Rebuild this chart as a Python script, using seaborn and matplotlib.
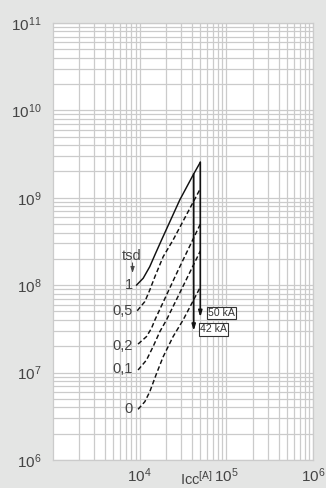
import numpy as np
import pandas as pd
import matplotlib
matplotlib.use("Agg")
import matplotlib.pyplot as plt
import seaborn as sns

# ---- data ----
tsd_labels = ["1", "0,5", "0,2", "0,1", "0"]
icc_1 = [9.2e3, 1.1e4, 1.31e4, 1.5e4, 1.79e4, 2.9e4, 4.13e4, 5.0e4]
i2t_1 = [1.0e8, 1.2e8, 1.63e8, 2.22e8, 3.29e8, 9.44e8, 1.82e9, 2.55e9]
icc_05 = [9.4e3, 1.15e4, 1.31e4, 1.5e4, 1.87e4, 2.43e4, 5.0e4]
i2t_05 = [5.1e7, 6.5e7, 8.8e7, 1.25e8, 2.12e8, 3.29e8, 1.27e9]
icc_02 = [9.6e3, 1.2e4, 1.37e4, 1.5e4, 2.72e4, 5.0e4]
i2t_02 = [2.12e7, 2.58e7, 3.21e7, 4.0e7, 1.42e8, 5.0e8]
icc_01 = [9.6e3, 1.2e4, 1.43e4, 1.71e4, 2.04e4, 5.0e4]
i2t_01 = [1.07e7, 1.39e7, 1.98e7, 2.94e7, 4.0e7, 2.46e8]
icc_0 = [9.6e3, 1.15e4, 1.31e4, 1.57e4, 1.87e4, 2.43e4, 3.17e4, 5.0e4]
i2t_0 = [3.8e6, 4.65e6, 6.04e6, 9.8e6, 1.52e7, 2.58e7, 4.0e7, 9.5e7]

limit_icc = [5.0e4, 4.2e4]
limit_top = [2.55e9, 1.87e9]
limit_bottom = [4.3e7, 3.0e7]
limit_labels = ["50 kA", "42 kA"]
label_pos_x = [6.1e4, 4.95e4]
label_pos_y = [4.8e7, 3.12e7]

tsd_label_y = [1.0e8, 5.0e7, 2.02e7, 1.1e7, 3.8e6]

x_ticks = [1e4, 1e5, 1e6]
y_ticks = [1e6, 1e7, 1e8, 1e9, 1e10, 1e11]

curves = [(icc_1, i2t_1), (icc_05, i2t_05), (icc_02, i2t_02),
          (icc_01, i2t_01), (icc_0, i2t_0)]
rows = []
for lab, (xs, ys) in zip(tsd_labels, curves):
    for xv, yv in zip(xs, ys):
        rows.append({"tsd": lab, "Icc": xv, "I2t": yv})
df = pd.DataFrame(rows)

# ---- style ----
sns.set_theme(style="white")
plt.rcParams["font.family"] = ["Liberation Sans", "DejaVu Sans"]
plt.rcParams["mathtext.fontset"] = "custom"
plt.rcParams["mathtext.rm"] = "Liberation Sans"
plt.rcParams["mathtext.it"] = "Liberation Sans"

bg = "#e4e5e4"
txt = "#444444"
fig = plt.figure(figsize=(3.26, 4.88), dpi=100, facecolor=bg)
ax = fig.add_axes([0.1617, 0.0574, 0.7994, 0.8955])
ax.set_facecolor("white")

ax.set_xscale("log")
ax.set_yscale("log")
ax.set_xlim(1e3, 1e6)
ax.set_ylim(1e6, 1e11)

ax.grid(which="both", color="#cbcbcb", linewidth=0.9)
ax.set_axisbelow(True)
for s in ax.spines.values():
    s.set_color("#cbcbcb")
    s.set_linewidth(0.9)

for lab in tsd_labels:
    sub = df[df["tsd"] == lab]
    ls = "-" if lab == "1" else (0, (3.2, 1.8))
    sns.lineplot(data=sub, x="Icc", y="I2t", ax=ax, color="#111111",
                 linewidth=1.05, linestyle=ls, estimator=None, sort=True,
                 legend=False)

for xv, yt, yb in zip(limit_icc, limit_top, limit_bottom):
    ax.annotate("", xy=(xv, yb), xytext=(xv, yt),
                arrowprops=dict(arrowstyle="-|>,head_length=0.3,head_width=0.09",
                                color="#111111", lw=1.2, shrinkA=0, shrinkB=0))

for lab, xv, yv in zip(limit_labels, label_pos_x, label_pos_y):
    ax.text(xv, yv, lab, fontsize=7.6, color="#333333", ha="left", va="center",
            bbox=dict(boxstyle="square,pad=0.12", fc="white", ec="#333333", lw=0.8))

for lab, yv in zip(tsd_labels, tsd_label_y):
    ax.text(8.3e3, yv, lab, fontsize=10.5, color=txt, ha="right", va="center")

ax.text(8.1e3, 2.16e8, "tsd", fontsize=10.5, color=txt, ha="center", va="center")
ax.annotate("", xy=(8.3e3, 1.38e8), xytext=(8.3e3, 1.8e8),
            arrowprops=dict(arrowstyle="-|>,head_length=0.3,head_width=0.1",
                            color=txt, lw=0.7, shrinkA=0, shrinkB=0))

ax.set_xticks(x_ticks)
ax.set_yticks(y_ticks)
ax.tick_params(axis="both", which="both", length=0, labelsize=11, labelcolor=txt)
ax.tick_params(axis="x", pad=4.5)
ax.tick_params(axis="y", pad=8)
ax.set_xlabel("")
ax.set_ylabel("")

fig.text(196.5 / 326, 3 / 488, r"Icc$^{\mathrm{[A]}}$", fontsize=10.5,
         color=txt, ha="center", va="baseline")

fig.savefig("out.png", dpi=100, facecolor=bg)
